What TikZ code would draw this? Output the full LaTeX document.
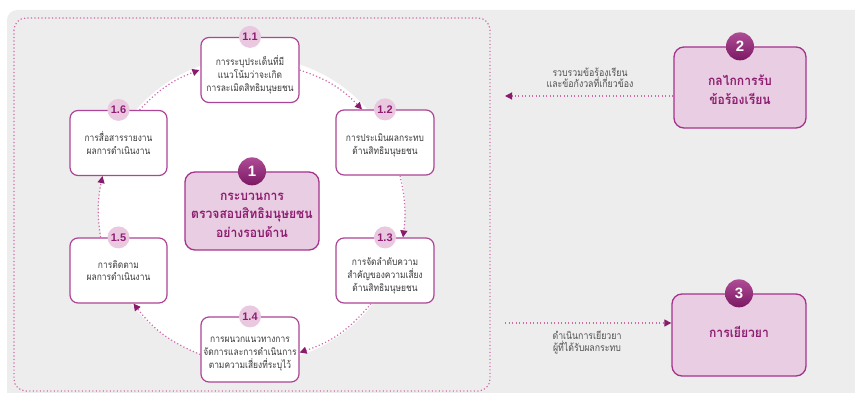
\documentclass[tikz,border=0pt]{standalone}
\usepackage{fontspec}
\setmainfont{Liberation Sans}
\newfontfamily\thai[Script=Thai, FakeStretch=0.86]{Loma}
\newfontfamily\thaib[Script=Thai, FakeStretch=0.92]{Loma}
\newfontfamily\numf{Liberation Sans}
\usetikzlibrary{arrows.meta,calc}
\definecolor{bggray}{HTML}{EDEDED}
\definecolor{boxline}{HTML}{AD4597}
\definecolor{mainline}{HTML}{A5338C}
\definecolor{mainfill}{HTML}{E9CDE2}
\definecolor{badgefill}{HTML}{E9C8E0}
\definecolor{badgetext}{HTML}{8E1E72}
\definecolor{mag}{HTML}{9B1F7C}
\definecolor{magtext}{HTML}{8D1D70}
\definecolor{txt}{HTML}{3A3A3A}
\definecolor{lbl}{HTML}{505050}
\definecolor{dotc}{HTML}{CC6BA8}
\definecolor{arrc}{HTML}{8A1A6C}
\tikzset{
  smallbox/.style={draw=boxline, line width=1.2pt, fill=white, rounded corners=8pt, minimum width=98pt, minimum height=65pt, inner sep=0pt},
  mainbox/.style={draw=mainline, line width=1.3pt, fill=mainfill, rounded corners=10pt, inner sep=0pt},
  sbadge/.style={circle, fill=badgefill, text=badgetext, font=\numf\bfseries\fontsize{11}{11}\selectfont, minimum size=22pt, inner sep=0pt},
  mbadge/.style={circle, top color=mag!80!white, bottom color=mag!80!black, text=white, font=\numf\bfseries\fontsize{15}{15}\selectfont, minimum size=28pt, inner sep=0pt},
  stext/.style={align=center, text=txt, font=\thai\fontsize{9.8}{12.8}\selectfont, inner sep=0pt},
  mtext/.style={align=center, text=magtext, font=\thaib\bfseries\fontsize{13.2}{18.5}\selectfont, inner sep=0pt},
  ltext/.style={align=center, text=lbl, font=\thai\fontsize{10.2}{11.5}\selectfont, inner sep=0pt},
  dotline/.style={draw=dotc, line width=1.2pt, dash pattern=on 1.2pt off 2.3pt},
  arr/.style={dotline, -{Triangle[length=7pt,width=7pt,color=arrc]}},
}
\begin{document}
\begin{tikzpicture}[x=1pt,y=-1pt]
\useasboundingbox (0,0) rectangle (855,393);
% background
\begin{scope}
\clip (0,0) rectangle (855,393);
\fill[bggray, rounded corners=10pt] (7,10) rectangle (870,405);
\end{scope}
\draw[dotline, rounded corners=12pt] (14,18) rectangle (490,391);
\fill[white] (252,210) circle[radius=153];

% small boxes
\node[smallbox] (b11) at (250,70) {};
\node[smallbox] (b12) at (385,142.5) {};
\node[smallbox] (b13) at (385,270.5) {};
\node[smallbox] (b14) at (250,349.5) {};
\node[smallbox, minimum width=97pt] (b15) at (118.5,270.5) {};
\node[smallbox, minimum width=97pt] (b16) at (118.5,143) {};

% cycle arrows
\draw[arr] ([xshift=21pt]b16.north) to[bend left=13] ([xshift=-1pt]b11.west);
\draw[arr] (b11.east) to[bend left=14] ([xshift=-23pt]b12.north);
\draw[arr] ([xshift=15pt]b12.south) to[bend left=10] ([xshift=18pt]b13.north);
\draw[arr] ([xshift=-14pt]b13.south) to[bend left=16] ([yshift=-3pt]b14.east);
\draw[arr] ([yshift=-5pt]b14.west) to[bend left=15] ([xshift=15pt]b15.south);
\draw[arr] ([xshift=-18pt]b15.north) to[bend left=10] ([xshift=-16pt]b16.south);

% small badges
\node[sbadge] (n11) at (b11.north) {1.1};
\node[sbadge] (n12) at (b12.north) {1.2};
\node[sbadge] (n13) at (b13.north) {1.3};
\node[sbadge] (n14) at (b14.north) {1.4};
\node[sbadge] (n15) at (b15.north) {1.5};
\node[sbadge] (n16) at (b16.north) {1.6};

% small texts
\node[stext] (t11) at ([yshift=-5pt]b11.center) {การระบุประเด็นที่มี\\แนวโน้มว่าจะเกิด\\การละเมิดสิทธิมนุษยชน};
\node[stext] (t12) at ([yshift=-3pt]b12.center) {การประเมินผลกระทบ\\ด้านสิทธิมนุษยชน};
\node[stext] (t13) at ([yshift=-5pt]b13.center) {การจัดลำดับความ\\สำคัญของความเสี่ยง\\ด้านสิทธิมนุษยชน};
\node[stext] (t14) at ([yshift=-4.5pt]b14.center) {การผนวกแนวทางการ\\จัดการและการดำเนินการ\\ตามความเสี่ยงที่ระบุไว้};
\node[stext] (t15) at (b15.center) {การติดตาม\\ผลการดำเนินงาน};
\node[stext] (t16) at (b16.center) {การสื่อสารรายงาน\\ผลการดำเนินงาน};

% main boxes
\node[mainbox, minimum width=134pt, minimum height=78pt] (b1) at (252,211) {};
\node[mainbox, minimum width=132pt, minimum height=81pt] (b2) at (740,87.5) {};
\node[mainbox, minimum width=134pt, minimum height=82pt] (b3) at (739,335) {};
\node[mbadge] (n1) at (b1.north) {1};
\node[mbadge] (n2) at (b2.north) {2};
\node[mbadge] (n3) at (b3.north) {3};
\node[mtext] (t1) at ([yshift=-4pt]b1.center) {กระบวนการ\\ตรวจสอบสิทธิมนุษยชน\\อย่างรอบด้าน};
\node[mtext] (t2) at ([yshift=-2pt]b2.center) {กลไกการรับ\\ข้อร้องเรียน};
\node[mtext] (t3) at ([yshift=3pt]b3.center) {การเยียวยา};

% side arrows
\coordinate (e2) at (505,96);
\coordinate (s3) at (505,323);
\draw[arr] ([yshift=-8.5pt]b2.west) -- (e2);
\draw[arr] (s3) -- ([yshift=12pt]b3.west);
\node[ltext] (l2) at (590,77.5) {รวบรวมข้อร้องเรียน\\และข้อกังวลที่เกี่ยวข้อง};
\node[ltext] (l3) at (587,342.5) {ดำเนินการเยียวยา\\ผู้ที่ได้รับผลกระทบ};
\end{tikzpicture}
\end{document}
